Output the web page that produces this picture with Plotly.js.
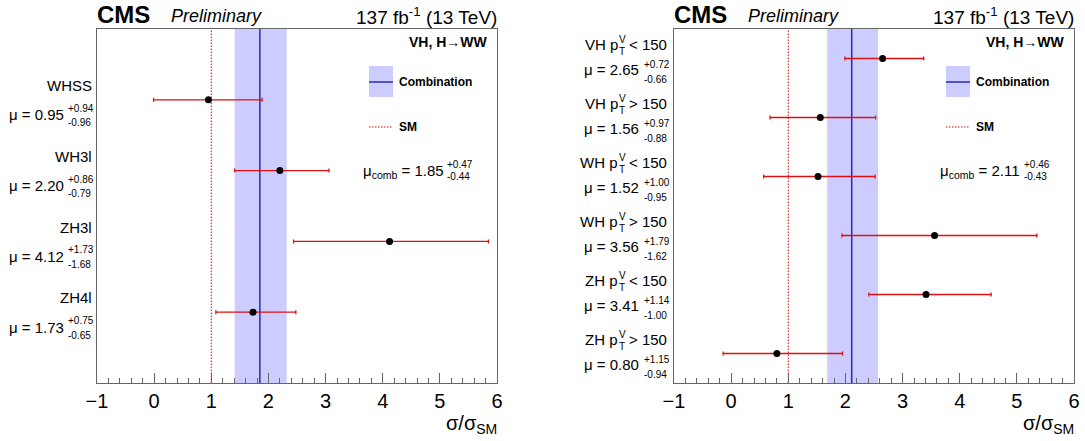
<!DOCTYPE html>
<html><head><meta charset="utf-8">
<script src="https://cdn.plot.ly/plotly-3.0.1.min.js"></script>
<style>html,body{margin:0;padding:0;background:#fff}#chart{width:1085px;height:441px}</style>
</head><body><div id="chart"></div>
<script>
// ---------------- data ----------------
const leftCategories = ['WHSS', 'WH3l', 'ZH3l', 'ZH4l'];
const leftMu = [0.95, 2.20, 4.12, 1.73];
const leftErrUp = [0.94, 0.86, 1.73, 0.75];
const leftErrDown = [0.96, 0.79, 1.68, 0.65];
const leftComb = [1.85, 0.47, 0.44]; // value, +err, -err

const rightProcesses = ['VH', 'VH', 'WH', 'WH', 'ZH', 'ZH'];
const rightBins = ['< 150', '> 150', '< 150', '> 150', '< 150', '> 150'];
const rightMu = [2.65, 1.56, 1.52, 3.56, 3.41, 0.80];
const rightErrUp = [0.72, 0.97, 1.00, 1.79, 1.14, 1.15];
const rightErrDown = [0.66, 0.88, 0.95, 1.62, 1.00, 0.94];
const rightComb = [2.11, 0.46, 0.43];

const smValue = 1;
const xTickValues = [-1, 0, 1, 2, 3, 4, 5, 6];
const analysisLabel = 'VH, H\u2192WW';
const lumiLabel = '137 fb<sup>-1</sup> (13 TeV)';

// ---------------- layout helpers ----------------
const W = 1085, H = 441;
const FONT = 'Liberation Sans, Arial, Helvetica, sans-serif';
const yTopPx = 29, yBotPx = 383;
const panels = [
  {fl: 97, fr: 497, xa: 'x', ya: 'y'},
  {fl: 674, fr: 1074, xa: 'x2', ya: 'y2'}
];
const px = v => v / W;
const py = v => 1 - v / H;
const annotations = [];
const shapes = [];
function ann(text, xpx, y, opts) {
  const o = Object.assign({size: 15, xanchor: 'left', yref: 'paper', yshift: 0, color: '#000'}, opts || {});
  annotations.push({
    text: text, xref: 'paper', x: px(xpx), yref: o.yref, y: o.yref === 'paper' ? py(y) : y,
    xanchor: o.xanchor, yanchor: 'middle', yshift: o.yshift, showarrow: false,
    borderpad: 0, borderwidth: 0,
    font: {family: FONT, size: o.size, color: o.color}
  });
}

const lineBlue = '#2b2ba6';
const bandBlue = 'rgb(204,204,255)';
const red = '#dd1111';
const smDash = '1.5px,1.5px';

const data = [];
function buildPanel(p, mu, up, down, comb) {
  const P = panels[p];
  const pos = mu.map((_, i) => i + 1);
  data.push({
    type: 'scatter', mode: 'markers', x: mu, y: pos, xaxis: P.xa, yaxis: P.ya,
    marker: {color: '#000', size: 7},
    error_x: {type: 'data', symmetric: false, array: up, arrayminus: down,
              color: red, thickness: 1.3, width: 2},
    hoverinfo: 'skip', showlegend: false
  });
  // combination band & line, SM line
  shapes.push({type: 'rect', xref: P.xa, yref: P.ya + ' domain', x0: comb[0] - comb[2], x1: comb[0] + comb[1],
               y0: 0, y1: 1, fillcolor: bandBlue, line: {width: 0}, layer: 'below'});
  shapes.push({type: 'line', xref: P.xa, yref: P.ya + ' domain', x0: comb[0], x1: comb[0], y0: 0, y1: 1,
               line: {color: lineBlue, width: 1.5}, layer: 'below'});
  shapes.push({type: 'line', xref: P.xa, yref: P.ya + ' domain', x0: smValue, x1: smValue, y0: 0, y1: 1,
               line: {color: '#ee0000', width: 1, dash: smDash}, layer: 'below'});
  // legend
  const lx0 = P.fl + 272, lx1 = P.fl + 296;
  shapes.push({type: 'rect', xref: 'paper', yref: 'paper', x0: px(lx0), x1: px(lx1), y0: py(97), y1: py(66),
               fillcolor: bandBlue, line: {width: 0}});
  shapes.push({type: 'line', xref: 'paper', yref: 'paper', x0: px(lx0), x1: px(lx1), y0: py(82), y1: py(82),
               line: {color: lineBlue, width: 1.5}});
  shapes.push({type: 'line', xref: 'paper', yref: 'paper', x0: px(lx0), x1: px(lx1), y0: py(127), y1: py(127),
               line: {color: '#ee0000', width: 1, dash: smDash}});
  ann('<b>Combination</b>', lx1 + 6, 82, {size: 12});
  ann('<b>SM</b>', lx1 + 6, 127, {size: 12});
  ann('<b>' + analysisLabel + '</b>', P.fr - 9, 42, {size: 14, xanchor: 'right'});
  // combined mu text
  const cx = P.fl + 266;
  ann('\u03bc<sub>comb</sub> = ' + comb[0].toFixed(2), cx, 171, {size: 15});
  ann('+' + comb[1].toFixed(2), cx + 84, 164, {size: 10});
  ann('-' + comb[2].toFixed(2), cx + 84, 176, {size: 10});
  // header
  ann('<b>CMS</b>', P.fl, 14, {size: 24});
  ann('<i>Preliminary</i>', P.fl + 74, 16, {size: 18});
  ann(lumiLabel, P.fr, 16, {size: 19, xanchor: 'right'});
  // axis title
  ann('\u03c3/\u03c3<sub>SM</sub>', P.fr, 424, {size: 20, xanchor: 'right'});
  return pos;
}

// left panel
const posL = buildPanel(0, leftMu, leftErrUp, leftErrDown, leftComb);
leftCategories.forEach((c, i) => {
  const o = {yref: 'y'};
  ann(c, 92, posL[i], Object.assign({}, o, {xanchor: 'right', yshift: 14.3}));
  ann('\u03bc = ' + leftMu[i].toFixed(2), 63.5, posL[i], Object.assign({}, o, {xanchor: 'right', yshift: -15}));
  ann('+' + leftErrUp[i].toFixed(2), 68, posL[i], Object.assign({}, o, {size: 10, yshift: -8.5}));
  ann('-' + leftErrDown[i].toFixed(2), 68, posL[i], Object.assign({}, o, {size: 10, yshift: -23}));
});

// right panel
const posR = buildPanel(1, rightMu, rightErrUp, rightErrDown, rightComb);
const RR = 667;
rightProcesses.forEach((c, i) => {
  const o = {yref: 'y2'};
  ann(rightBins[i], RR, posR[i], Object.assign({}, o, {xanchor: 'right', yshift: 13.7}));
  ann(c + ' p', RR - 49.5, posR[i], Object.assign({}, o, {xanchor: 'right', yshift: 13.7}));
  ann('V', RR - 48.5, posR[i], Object.assign({}, o, {size: 10, yshift: 19.5}));
  ann('T', RR - 48.5, posR[i], Object.assign({}, o, {size: 10, yshift: 7.5}));
  ann('\u03bc = ' + rightMu[i].toFixed(2), 638.5, posR[i], Object.assign({}, o, {xanchor: 'right', yshift: -10.6}));
  ann('+' + rightErrUp[i].toFixed(2), 643.5, posR[i], Object.assign({}, o, {size: 10, yshift: -5.6}));
  ann('-' + rightErrDown[i].toFixed(2), 643.5, posR[i], Object.assign({}, o, {size: 10, yshift: -21.3}));
});

function xAxis(P) {
  return {
    domain: [px(P.fl), px(P.fr)], anchor: P.ya, range: [xTickValues[0], xTickValues[xTickValues.length - 1]],
    tickmode: 'array', tickvals: xTickValues, ticks: 'inside', ticklen: 10, tickwidth: 1, tickcolor: '#666',
    minor: {dtick: 0.2, ticks: 'inside', ticklen: 5, tickwidth: 1, tickcolor: '#666', showgrid: false},
    showline: true, mirror: true, linecolor: '#666', linewidth: 1,
    showgrid: false, zeroline: false, fixedrange: true,
    tickfont: {family: FONT, size: 20, color: '#000'}
  };
}
function yAxis(P, n) {
  return {
    domain: [py(yBotPx), py(yTopPx)], anchor: P.xa, range: n === 4 ? [n + 1, 0] : [n + 0.5, 0.5],
    tickmode: 'array', tickvals: [], showticklabels: false, ticks: '',
    showline: true, mirror: true, linecolor: '#666', linewidth: 1,
    showgrid: false, zeroline: false, fixedrange: true
  };
}

const layout = {
  width: W, height: H, margin: {l: 0, r: 0, t: 0, b: 0},
  paper_bgcolor: '#fff', plot_bgcolor: '#fff', showlegend: false,
  xaxis: xAxis(panels[0]), yaxis: yAxis(panels[0], leftMu.length),
  xaxis2: xAxis(panels[1]), yaxis2: yAxis(panels[1], rightMu.length),
  shapes: shapes, annotations: annotations, hovermode: false
};
Plotly.newPlot('chart', data, layout, {displayModeBar: false, staticPlot: true});
</script></body></html>
